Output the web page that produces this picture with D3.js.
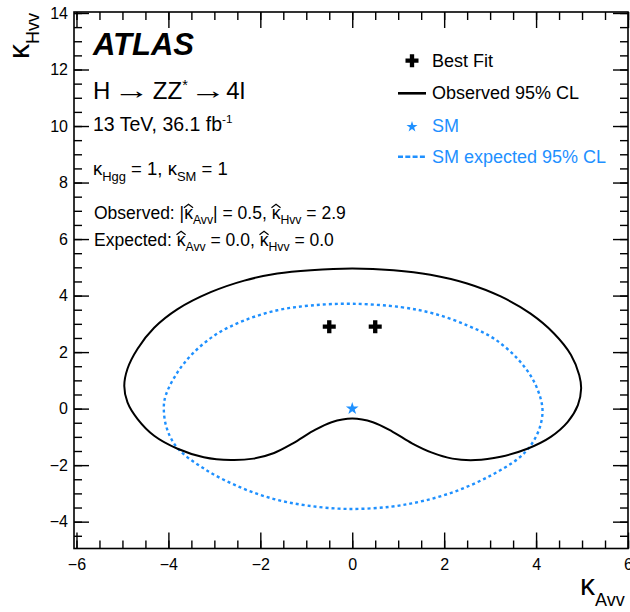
<!DOCTYPE html>
<html>
<head>
<meta charset="utf-8">
<script src="https://cdn.jsdelivr.net/npm/d3@7"></script>
<style>
  html, body { margin: 0; padding: 0; background: #fff; }
  svg { display: block; font-family: "Liberation Sans", Arial, Helvetica, sans-serif; }
  svg text { white-space: pre; }
</style>
</head>
<body>
<svg id="chart" width="630" height="612"></svg>
<script>
// Observed 95% CL contour in the (kappa_Avv, kappa_Hvv) plane
const obsAvv = [0.00, 0.90, 1.70, 2.50, 3.23, 3.88, 4.39, 4.76, 4.94, 4.98, 4.91, 4.69, 4.32, 3.81, 3.23, 2.68, 2.18, 1.72, 1.30, 0.88, 0.45, 0.00,
  -0.45, -0.86, -1.28, -1.70, -2.15, -2.64, -3.23, -3.80, -4.31, -4.67, -4.89, -4.96, -4.89, -4.67, -4.31, -3.80, -3.08, -2.35, -1.63, -0.90];
const obsHvv = [4.96, 4.90, 4.74, 4.43, 3.97, 3.36, 2.66, 1.90, 1.18, 0.70, 0.12, -0.47, -1.00, -1.42, -1.70, -1.82, -1.77, -1.55, -1.23, -0.82, -0.48, -0.35,
  -0.48, -0.80, -1.22, -1.57, -1.77, -1.82, -1.72, -1.42, -0.96, -0.37, 0.22, 0.80, 1.41, 2.12, 2.86, 3.52, 4.12, 4.53, 4.78, 4.90];

// SM expected 95% CL contour
const expAvv = [0.00, 1.06, 1.78, 2.51, 3.09, 3.60, 3.92, 4.10, 4.14, 4.07, 3.88, 3.60, 3.01, 2.29, 1.56, 0.84, -0.10, -0.98, -1.70, -2.43, -3.18, -3.80, -4.03, -4.10, -4.06, -3.80, -3.44, -2.94, -2.35, -1.63, -0.90];
const expHvv = [3.71, 3.59, 3.36, 2.94, 2.47, 1.76, 1.06, 0.35, -0.13, -0.72, -1.31, -1.78, -2.37, -2.90, -3.26, -3.47, -3.55, -3.43, -3.20, -2.79, -2.17, -1.40, -0.72, -0.01, 0.46, 1.29, 2.00, 2.65, 3.12, 3.48, 3.65];

// Best-fit points (sign of kappa_Avv is not resolved) and the SM point
const bestAvv = [-0.5, 0.5];
const bestHvv = [2.9, 2.9];
const smAvv = [0];
const smHvv = [0];

// Axis ticks
const xMajor = [-6, -4, -2, 0, 2, 4, 6];
const yMajor = [-4, -2, 0, 2, 4, 6, 8, 10, 12, 14];
const xMinor = d3.range(-6, 6.01, 0.5);
const yMinor = d3.range(-4.5, 14.01, 0.5);

const BLUE = "#1e90ff";
const FONT = "'Liberation Sans', Arial, Helvetica, sans-serif";

const svg = d3.select("#chart");
const L = 74, R = 628, T = 12, B = 548.5;

const x = d3.scaleLinear().domain([-6.054, 6.0]).range([L, R]);
const y = d3.scaleLinear().domain([-4.95, 14.035]).range([B, T]);

// ---- axes: ticks point inward on all four sides ----
function styleAxis(g) {
  g.select(".domain").remove();
  g.selectAll(".tick line").attr("stroke", "#000").attr("stroke-width", 1.4);
  g.selectAll(".tick text").attr("fill", "#000").style("font-size", "16px").style("font-family", FONT);
}
const fmt = d3.format("d");

svg.append("g").attr("transform", `translate(0,${B})`)
  .call(d3.axisBottom(x).tickValues(xMajor).tickSize(-16).tickPadding(10).tickFormat(fmt)).call(styleAxis);
svg.append("g").attr("transform", `translate(0,${B})`)
  .call(d3.axisBottom(x).tickValues(xMinor).tickSize(-8).tickFormat("")).call(styleAxis);
svg.append("g").attr("transform", `translate(0,${T})`)
  .call(d3.axisTop(x).tickValues(xMajor).tickSize(-16).tickFormat("")).call(styleAxis);
svg.append("g").attr("transform", `translate(0,${T})`)
  .call(d3.axisTop(x).tickValues(xMinor).tickSize(-8).tickFormat("")).call(styleAxis);

svg.append("g").attr("transform", `translate(${L},0)`)
  .call(d3.axisLeft(y).tickValues(yMajor).tickSize(-15).tickPadding(6).tickFormat(fmt)).call(styleAxis);
svg.append("g").attr("transform", `translate(${L},0)`)
  .call(d3.axisLeft(y).tickValues(yMinor).tickSize(-8).tickFormat("")).call(styleAxis);
svg.append("g").attr("transform", `translate(${R},0)`)
  .call(d3.axisRight(y).tickValues(yMajor).tickSize(-15).tickFormat("")).call(styleAxis);
svg.append("g").attr("transform", `translate(${R},0)`)
  .call(d3.axisRight(y).tickValues(yMinor).tickSize(-8).tickFormat("")).call(styleAxis);

svg.append("rect").attr("x", L).attr("y", T).attr("width", R - L).attr("height", B - T)
  .attr("fill", "none").attr("stroke", "#000").attr("stroke-width", 1.6);

// ---- contours ----
const contour = d3.line()
  .x(d => x(d[0])).y(d => y(d[1]))
  .curve(d3.curveCatmullRomClosed.alpha(0.5));

svg.append("path")
  .datum(d3.zip(expAvv, expHvv))
  .attr("d", contour)
  .attr("fill", "none").attr("stroke", BLUE).attr("stroke-width", 2.4)
  .attr("stroke-dasharray", "3,3");

svg.append("path")
  .datum(d3.zip(obsAvv, obsHvv))
  .attr("d", contour)
  .attr("fill", "none").attr("stroke", "#000").attr("stroke-width", 2);

// ---- markers ----
const cross = d3.symbol(d3.symbolCross, 94);
svg.selectAll(".best").data(d3.zip(bestAvv, bestHvv)).join("path")
  .attr("class", "best")
  .attr("transform", d => `translate(${x(d[0])},${y(d[1])})`)
  .attr("d", cross).attr("fill", "#000");

const star = d3.symbol(d3.symbolStar, 50);
svg.selectAll(".sm").data(d3.zip(smAvv, smHvv)).join("path")
  .attr("class", "sm")
  .attr("transform", d => `translate(${x(d[0])},${y(d[1])})`)
  .attr("d", star).attr("fill", BLUE);

// ---- rich text helper: runs of normal / sub / sup text, optional hat ----
// p.sx stretches a run horizontally by that factor
function rich(parent, px, py, parts, size, opts = {}) {
  const g = parent.append("g");
  const inner = g.append("g");
  let cx = 0;
  for (const p of parts) {
    const s = (p.sub || p.sup) ? size * (p.scale || 0.7) : size * (p.scale || 1);
    const dy = p.dy !== undefined ? p.dy : p.sub ? size * 0.3 : p.sup ? -size * 0.4 : 0;
    cx += p.pre || 0;
    const t = inner.append("text")
      .attr("x", 0).attr("y", 0)
      .style("font-size", s + "px")
      .style("font-family", p.font || FONT)
      .style("font-weight", p.bold ? "bold" : null)
      .style("font-style", p.italic ? "italic" : null)
      .attr("fill", opts.color || "#000")
      .text(p.t);
    let w = t.node().getComputedTextLength();
    const sx = p.sx || 1;
    t.attr("transform", `translate(${cx},${dy})` + (sx !== 1 ? ` scale(${sx},1)` : ""));
    w *= sx;
    if (p.hat) {
      const xh = s * 0.56;
      inner.append("path")
        .attr("d", `M${cx - w * 0.02},${-xh - 1.5} L${cx + w * 0.5},${-xh - 5} L${cx + w * 1.02},${-xh - 1.5}`)
        .attr("fill", "none").attr("stroke", opts.color || "#000").attr("stroke-width", 1.2);
    }
    cx += w + (p.gap || 0);
  }
  const off = opts.anchor === "end" ? -cx : opts.anchor === "middle" ? -cx / 2 : 0;
  inner.attr("transform", `translate(${off},0)`);
  g.attr("transform", `translate(${px},${py})` + (opts.rotate ? ` rotate(${opts.rotate})` : ""));
  return g;
}

// ---- axis titles ----
rich(svg, 580, 595, [{ t: "κ" }, { t: "Avv", sub: true, scale: 0.6, dy: 11 }], 30);
rich(svg, 28.5, 13, [{ t: "κ" }, { t: "Hvv", sub: true, scale: 0.6, dy: 10 }], 30, { anchor: "end", rotate: -90 });

// ---- labels in the upper left ----
rich(svg, 93, 55, [{ t: "ATLAS", bold: true, italic: true }], 31);
rich(svg, 93, 99, [
  { t: "H" },
  { t: "→", scale: 1.05, pre: 3, sx: 1.45 },
  { t: "ZZ", pre: 3 },
  { t: "*", sup: true, scale: 0.6, dy: -9 },
  { t: "→", scale: 1.05, pre: 2, sx: 1.45 },
  { t: "4l", pre: 0 }], 24);
rich(svg, 93, 131, [{ t: "13 TeV, 36.1 fb" }, { t: "-1", sup: true, scale: 0.6 }], 19.5);
rich(svg, 93, 175, [{ t: "κ" }, { t: "Hgg", sub: true }, { t: " = 1, κ" }, { t: "SM", sub: true }, { t: " = 1" }], 18.5);
rich(svg, 94, 219, [
  { t: "Observed: |" }, { t: "κ", hat: true }, { t: "Avv", sub: true }, { t: "| = 0.5, " },
  { t: "κ", hat: true }, { t: "Hvv", sub: true }, { t: " = 2.9" }], 17.5);
rich(svg, 94, 246, [
  { t: "Expected: " }, { t: "κ", hat: true }, { t: "Avv", sub: true }, { t: " = 0.0, " },
  { t: "κ", hat: true }, { t: "Hvv", sub: true }, { t: " = 0.0" }], 17.5);

// ---- legend ----
const lg = svg.append("g");
const legX = 398, legW = 28, legTx = 432;
lg.append("path").attr("transform", `translate(${legX + legW / 2},60.7)`).attr("d", cross).attr("fill", "#000");
rich(lg, legTx, 67, [{ t: "Best Fit" }], 18);

lg.append("line").attr("x1", legX).attr("x2", legX + legW).attr("y1", 93.3).attr("y2", 93.3)
  .attr("stroke", "#000").attr("stroke-width", 2.6);
rich(lg, legTx, 98.5, [{ t: "Observed 95% CL" }], 18);

lg.append("path").attr("transform", `translate(${legX + legW / 2},126.7)`)
  .attr("d", d3.symbol(d3.symbolStar, 38)).attr("fill", BLUE);
rich(lg, legTx, 132, [{ t: "SM" }], 18, { color: BLUE });

lg.append("line").attr("x1", legX).attr("x2", legX + legW).attr("y1", 156.7).attr("y2", 156.7)
  .attr("stroke", BLUE).attr("stroke-width", 2.6).attr("stroke-dasharray", "5,2.3");
rich(lg, legTx, 163, [{ t: "SM expected 95% CL" }], 18, { color: BLUE });
</script>
</body>
</html>
